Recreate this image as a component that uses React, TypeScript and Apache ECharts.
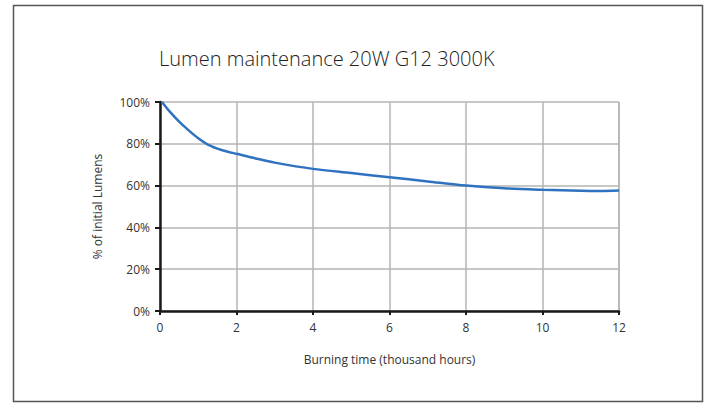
import React, { useEffect, useRef } from "react";
import * as echarts from "echarts";

const TITLE = "Lumen maintenance 20W G12 3000K";
const X_NAME = "Burning time (thousand hours)";
const Y_NAME = "% of initial Lumens";
const hours = [0.05, 0.25, 0.5, 0.75, 1, 1.25, 1.5, 1.75, 2, 2.5, 3, 4, 5, 6, 7, 8, 9, 10, 11, 11.5, 12];
const lumens = [100, 95.5, 90.6, 86.4, 82.6, 79.6, 77.7, 76.3, 75.2, 73, 71, 68, 66, 64, 62, 60, 58.7, 58, 57.5, 57.4, 57.6];

export default function App() {
  const ref = useRef<HTMLDivElement>(null);
  useEffect(() => {
    if (!ref.current) return;
    const chart = echarts.init(ref.current, null, { renderer: "svg" });
    const font = "'Open Sans', Lato, sans-serif";
    chart.setOption({
      animation: false,
      backgroundColor: "#fff",
      title: {
        text: TITLE,
        left: 154,
        top: 43,
        textStyle: { fontFamily: font, fontSize: 20, fontWeight: 300, color: "#222" },
      },
      grid: { left: 160, right: 91, top: 102, bottom: 95 },
      xAxis: {
        type: "value",
        min: 0,
        max: 12,
        interval: 2,
        name: X_NAME,
        nameLocation: "middle",
        nameGap: 42,
        nameTextStyle: { fontFamily: font, fontSize: 12, color: "#333" },
        axisLine: { show: true, onZero: false, lineStyle: { color: "#1a1a1a", width: 2.5 } },
        axisTick: { show: true, length: 4, lineStyle: { color: "#1a1a1a", width: 2 } },
        axisLabel: { fontFamily: font, fontSize: 12, color: "#333", margin: 10 },
        splitLine: { show: true, lineStyle: { color: "#b5b5b5", width: 1.5 } },
      },
      yAxis: {
        type: "value",
        min: 0,
        max: 100,
        interval: 20,
        name: Y_NAME,
        nameLocation: "middle",
        nameGap: 57,
        nameRotate: 90,
        nameTextStyle: { fontFamily: font, fontSize: 12, color: "#333" },
        axisLine: { show: true, lineStyle: { color: "#1a1a1a", width: 2.5 } },
        axisTick: { show: true, length: 5, lineStyle: { color: "#1a1a1a", width: 2 } },
        axisLabel: { fontFamily: font, fontSize: 12, color: "#333", margin: 10, formatter: "{value}%" },
        splitLine: { show: true, lineStyle: { color: "#b5b5b5", width: 1.5 } },
      },
      graphic: [
        {
          type: "rect",
          shape: { x: 13.5, y: 5.5, width: 689, height: 396 },
          style: { fill: "none", stroke: "#555", lineWidth: 1.5 },
          silent: true,
        },
        {
          type: "line",
          shape: { x1: 619, y1: 102, x2: 619, y2: 311 },
          style: { stroke: "#b5b5b5", lineWidth: 1.5 },
          silent: true,
        },
      ],
      series: [
        {
          type: "line",
          data: hours.map((h, i) => [h, lumens[i]]),
          smooth: 0.3,
          showSymbol: false,
          lineStyle: { color: "#2f72c0", width: 2.5 },
          z: 5,
        },
      ],
    });
    return () => chart.dispose();
  }, []);
  return <div ref={ref} style={{ position: "fixed", left: 0, top: 0, width: 710, height: 406 }} />;
}
